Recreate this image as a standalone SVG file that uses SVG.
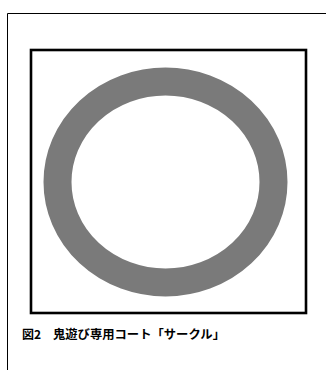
<svg xmlns="http://www.w3.org/2000/svg" width="326" height="370" viewBox="0 0 326 370">
<style>
.cap{font-family:"Noto Sans CJK JP","Noto Sans",sans-serif;font-weight:bold;font-size:12px;fill:#000}
</style>
<rect width="326" height="370" fill="#fff"/>
<g id="outer-frame">
<path d="M7.5 370 V13.5 H326" fill="none" stroke="#000" stroke-width="1"/>
</g>
<g id="court-frame">
<rect x="31" y="50" width="275" height="263" fill="none" stroke="#000" stroke-width="2.6"/>
</g>
<g id="circle-court">
<ellipse cx="165.5" cy="182" rx="108" ry="100.5" fill="none" stroke="#7a7a7a" stroke-width="28"/>
</g>
<g id="caption">
<text class="cap" x="22" y="339">図2</text>
<text class="cap" x="53" y="339" textLength="172" lengthAdjust="spacingAndGlyphs">鬼遊び専用コート「サークル」</text>
</g>
</svg>
